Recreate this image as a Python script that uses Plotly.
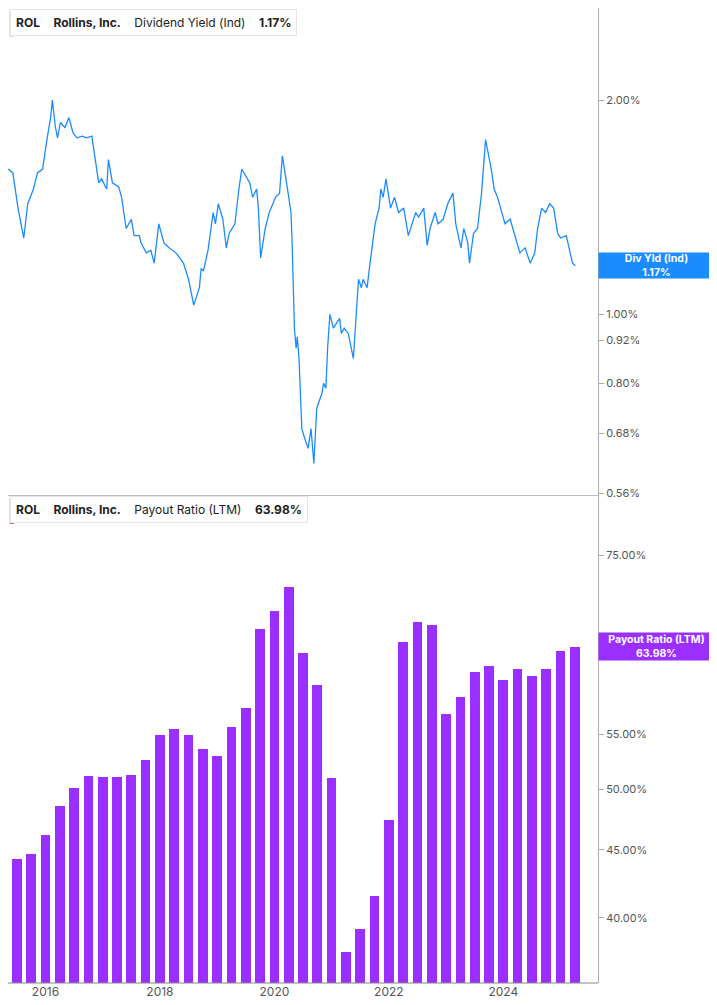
import numpy as np
import plotly.graph_objects as go
from plotly.subplots import make_subplots

# Dividend yield (%), x in decimal years
yld_t = [2015.35, 2015.43, 2015.52, 2015.62, 2015.69, 2015.79, 2015.86, 2015.95, 2016.03, 2016.09, 2016.12, 2016.17,
         2016.21, 2016.26, 2016.34, 2016.41, 2016.48, 2016.55, 2016.64, 2016.72, 2016.81, 2016.86, 2016.93, 2016.98,
         2017.07, 2017.10, 2017.17, 2017.28, 2017.33, 2017.41, 2017.50, 2017.55, 2017.64, 2017.67, 2017.76, 2017.84,
         2017.90, 2017.98, 2018.07, 2018.16, 2018.28, 2018.41, 2018.50, 2018.59, 2018.69, 2018.72, 2018.76, 2018.84,
         2018.93, 2018.97, 2019.02, 2019.10, 2019.16, 2019.21, 2019.31, 2019.38, 2019.43, 2019.57, 2019.62, 2019.69,
         2019.72, 2019.76, 2019.84, 2019.91, 2020.02, 2020.09, 2020.14, 2020.24, 2020.29, 2020.31, 2020.35, 2020.38,
         2020.40, 2020.43, 2020.45, 2020.48, 2020.53, 2020.59, 2020.64, 2020.69, 2020.74, 2020.83, 2020.86, 2020.90,
         2020.93, 2020.97, 2021.03, 2021.14, 2021.17, 2021.22, 2021.29, 2021.38, 2021.47, 2021.52, 2021.55, 2021.62,
         2021.66, 2021.72, 2021.76, 2021.83, 2021.86, 2021.90, 2021.95, 2022.03, 2022.10, 2022.17, 2022.26, 2022.34,
         2022.47, 2022.52, 2022.61, 2022.67, 2022.72, 2022.81, 2022.86, 2022.95, 2023.03, 2023.12, 2023.17, 2023.26,
         2023.31, 2023.38, 2023.41, 2023.48, 2023.55, 2023.62, 2023.69, 2023.79, 2023.84, 2023.90, 2023.95, 2024.03,
         2024.12, 2024.21, 2024.29, 2024.38, 2024.47, 2024.55, 2024.60, 2024.67, 2024.74, 2024.81, 2024.88, 2024.95,
         2025.00, 2025.10, 2025.21, 2025.26, 2025.31, 2025.33]
yld_v = [1.60, 1.58, 1.41, 1.28, 1.43, 1.50, 1.58, 1.60, 1.77, 1.89, 2.00, 1.84, 1.77, 1.86, 1.83, 1.89, 1.80, 1.77,
         1.78, 1.77, 1.78, 1.66, 1.53, 1.55, 1.50, 1.65, 1.53, 1.51, 1.46, 1.32, 1.36, 1.29, 1.29, 1.26, 1.22, 1.23,
         1.18, 1.34, 1.26, 1.24, 1.22, 1.18, 1.12, 1.03, 1.09, 1.16, 1.15, 1.23, 1.39, 1.34, 1.43, 1.36, 1.24, 1.30,
         1.34, 1.50, 1.60, 1.53, 1.46, 1.50, 1.41, 1.20, 1.32, 1.39, 1.46, 1.48, 1.67, 1.48, 1.39, 1.26, 0.956, 0.896,
         0.93, 0.867, 0.80, 0.69, 0.669, 0.648, 0.691, 0.617, 0.738, 0.774, 0.80, 0.787, 0.896, 1.00, 0.956, 0.987,
         0.94, 0.956, 0.94, 0.867, 1.12, 1.09, 1.12, 1.09, 1.16, 1.28, 1.34, 1.41, 1.50, 1.46, 1.55, 1.41, 1.46,
         1.39, 1.41, 1.29, 1.39, 1.37, 1.41, 1.25, 1.32, 1.39, 1.34, 1.36, 1.43, 1.48, 1.34, 1.24, 1.32, 1.26, 1.18,
         1.30, 1.32, 1.48, 1.76, 1.60, 1.50, 1.46, 1.41, 1.34, 1.36, 1.28, 1.22, 1.24, 1.18, 1.22, 1.32, 1.41, 1.39,
         1.43, 1.41, 1.30, 1.28, 1.29, 1.18, 1.17]

# Payout ratio (LTM, %) by quarter
pay_t = [2015.50 + 0.25 * i for i in range(40)]
pay_v = [44.3, 44.7, 46.2, 48.6, 50.1, 51.2, 51.1, 51.1, 51.3, 52.6, 55.0, 55.5, 55.0, 53.6, 53.0, 55.7, 57.6, 66.0,
         68.1, 71.0, 63.4, 59.9, 51.0, 37.7, 39.3, 41.6, 47.4, 64.6, 66.8, 66.5, 57.0, 58.7, 61.3, 62.0, 60.5, 61.6,
         60.9, 61.6, 63.6, 63.98]

yld_ticks = [2.00, 1.00, 0.92, 0.80, 0.68, 0.56]
pay_ticks = [75, 55, 50, 45, 40]
years = [2016, 2018, 2020, 2022, 2024]

BLUE = "#1a8cff"
PURPLE = "#9a2fff"
GRAY = "#555"

fig = make_subplots(rows=2, cols=1, shared_xaxes=True, vertical_spacing=0,
                    row_heights=[0.5, 0.5])

fig.add_trace(go.Scatter(x=yld_t, y=yld_v, mode="lines",
                         line=dict(color=BLUE, width=1.3)), row=1, col=1)
fig.add_trace(go.Bar(x=pay_t, y=pay_v, width=0.17, marker=dict(color=PURPLE, line_width=0)),
              row=2, col=1)

fig.update_xaxes(range=[2015.345, 2025.655], showgrid=False, zeroline=False,
                 showline=False, tickvals=years, ticks="")
fig.update_xaxes(showticklabels=True, tickfont=dict(size=12, color=GRAY, family="Inter"),
                 row=2, col=1)

common = dict(type="log", side="right", showgrid=False, zeroline=False, showline=True,
              linecolor="#aaa", linewidth=1, ticks="outside", ticklen=5, tickcolor="#aaa",
              tickfont=dict(size=11, color=GRAY, family="Inter"), mirror=False)
fig.update_yaxes(range=[-0.2546, 0.4304], tickvals=yld_ticks,
                 ticktext=[f"{v:.2f}%" for v in yld_ticks], row=1, col=1, **common)
fig.update_yaxes(range=[1.553, 1.920], tickvals=pay_ticks,
                 ticktext=[f"{v:.2f}%" for v in pay_ticks], row=2, col=1, **common)

# separators
fig.add_shape(type="line", xref="paper", yref="paper", x0=0, x1=1, y0=0.5, y1=0.5,
              line=dict(color="#bbb", width=1))
fig.add_shape(type="line", xref="paper", yref="paper", x0=0, x1=1, y0=0, y1=0,
              line=dict(color="#888", width=1))

# legend boxes
legends = [
    (1.0, BLUE, "<b>ROL</b>    <b>Rollins, Inc.</b>    Dividend Yield (Ind)    <b>1.17%</b>"),
    (0.5, PURPLE, "<b>ROL</b>    <b>Rollins, Inc.</b>    Payout Ratio (LTM)    <b>63.98%</b>"),
]
for ytop, col, txt in legends:
    fig.add_annotation(xref="paper", yref="paper", x=0.003, y=ytop - 0.001, xanchor="left",
                       yanchor="top", text=txt, showarrow=False, align="left",
                       font=dict(size=12, color="#222", family="Inter"),
                       bgcolor="white", bordercolor="#e6e6e6", borderwidth=1, borderpad=5)
    fig.add_shape(type="rect", xref="paper", yref="paper", x0=0.003, x1=0.010,
                  y0=ytop - 0.029, y1=ytop - 0.003, fillcolor=col, line_width=0)

# right-side value labels
fig.add_annotation(xref="paper", yref="y", x=1.0, y=np.log10(yld_v[-1]), xanchor="left",
                   text="<b>Div Yld (Ind)<br>1.17%</b>", showarrow=False, width=113, height=23,
                   bgcolor=BLUE, font=dict(size=10.5, color="white", family="Inter"), borderpad=1)
fig.add_annotation(xref="paper", yref="y2", x=1.0, y=np.log10(pay_v[-1]), xanchor="left",
                   text="<b>Payout Ratio (LTM)<br>63.98%</b>", showarrow=False, width=113, height=25,
                   bgcolor=PURPLE, font=dict(size=10.5, color="white", family="Inter"), borderpad=1)

fig.update_layout(width=709, height=997, margin=dict(l=0, r=119, t=0, b=22),
                  plot_bgcolor="white", paper_bgcolor="white", showlegend=False, bargap=0)

fig.write_html("out.html")
